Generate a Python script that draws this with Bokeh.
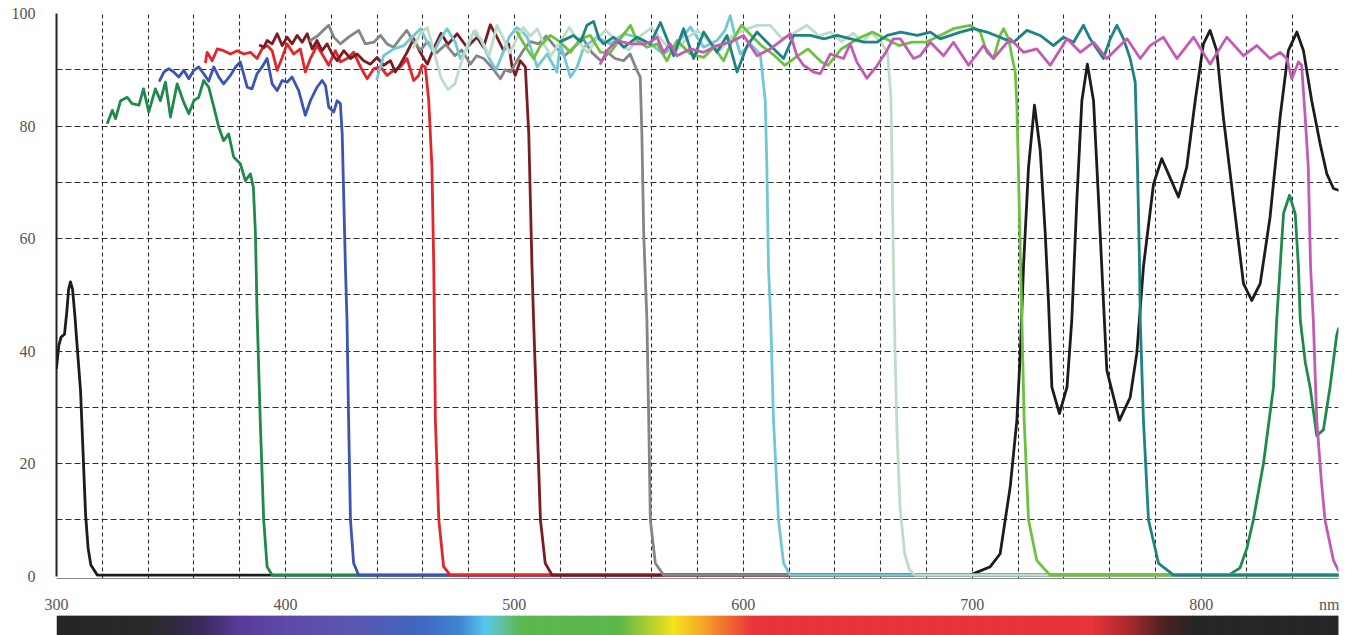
import numpy as np
from bokeh.plotting import figure
from bokeh.layouts import column
from bokeh.models import FixedTicker, Range1d
from bokeh.embed import file_html
from bokeh.resources import INLINE

# ---------------- data (wavelength nm, transmission %) ----------------
black_x = [300, 301, 302, 303.5, 304.5, 305.3, 306.1, 307, 308, 309, 310.5, 311.6, 312.7, 313.8, 315, 317.8,
           699, 707.9, 712.2, 716.6, 719.5, 721, 722.4, 724.6, 727.2, 729.7, 731.9, 733.3, 734.8, 738.1, 741.4,
           743.5, 745.7, 747.9, 750.3, 753, 755.2, 757.3, 758.8, 764.3, 769, 771.9, 774.8, 779.2, 782.8, 785.7,
           790.1, 793.7, 797.4, 801, 803.9, 806.8, 809.7, 814.1, 818.5, 822.1, 825.8, 830.1, 834.5, 838.1,
           841.8, 844.7, 848.3, 852, 854.9, 857.8, 860]
black_y = [37, 41, 42.5, 43, 47, 51, 52.3, 51, 46.5, 41, 33, 22, 11, 5, 2, 0.2,
           0.2, 1.7, 4, 15.9, 27.7, 39.6, 55, 72.7, 83.7, 75.7, 60.9, 49, 33.6, 28.9, 33.6,
           45.5, 66.8, 84.5, 91, 84.5, 66.8, 49, 36.6, 27.7, 31.8, 39.6, 55, 69.7, 74.2, 71.5,
           67.4, 72.7, 84.5, 94.6, 97, 93.4, 81.6, 66.8, 52, 49, 52, 63.8, 81.6, 93.4,
           96.7, 93.4, 84.5, 76.8, 71.5, 68.9, 68.6]

green_x = [322.3, 324.4, 325.8, 328, 330.9, 333, 336, 338, 340.3, 343.2, 345.4, 347.6, 349.8, 352.7, 355.6,
           357.8, 360, 362.1, 364.3, 366.5, 368.7, 370.9, 373, 375.2, 377.4, 380.3, 382.5, 384.7, 386, 386.9,
           387.6, 389, 390.5, 392, 394.2, 812, 817, 820, 822.8, 827.2, 831.6, 833, 834.5, 836, 838.6, 841.1,
           842.5, 843.3, 845.5, 847.6, 850.5, 853.4, 856.3, 859.2, 860]
green_y = [80.6, 82.8, 81.3, 84.5, 85.1, 84, 83.7, 86.6, 82.5, 86.6, 84.5, 87.8, 81.6, 87.5, 84.2,
           82.2, 84.5, 85.1, 88.1, 86.9, 83.4, 79.8, 77.4, 78.6, 74.5, 73.3, 70.3, 71.5, 69.1, 60.9,
           47, 27.7, 10, 1.7, 0.2, 0.2, 1.5, 5, 10, 20, 33.6, 45.5, 55, 64.5, 67.7, 64.4,
           55, 45.5, 38, 33.6, 25, 26, 33.6, 42.8, 44]

blue_x = [345.1, 346.9, 349, 351.2, 353.4, 355.6, 357.8, 360, 362.1, 364.3, 366.5, 368.7, 370.9, 373, 376,
          378.2, 380.3, 383.3, 385.4, 387.6, 389.8, 392, 394.2, 396.4, 398.6, 400.7, 402.9, 405.8, 408.7,
          410.9, 413.8, 416, 417.5, 418.9, 421.1, 422.6, 424, 424.8, 425.5, 426.2, 426.9, 427.6, 428.4,
          429.8, 432, 860]
blue_y = [88.1, 89.6, 90.2, 89.6, 88.7, 89.9, 88.4, 89.9, 90.5, 89.3, 88, 90.5, 88.7, 87.5, 89,
          90.5, 91.4, 86.9, 86.6, 89.3, 90.5, 92, 87.5, 86.3, 88.1, 87.8, 88.7, 86.3, 81.9,
          84.5, 86.9, 88.1, 87.2, 83.4, 82.5, 84.5, 84, 78.6, 66.8, 55, 45.5, 27.7, 10,
          2.3, 0.2, 0.2]

red_x = [365.1, 365.8, 368, 370.2, 373, 376, 378.9, 381.8, 384.7, 387.6, 389.8, 392, 394.2, 396.4, 398.6,
         400.7, 403.6, 406.5, 408.7, 410.9, 413.8, 416, 418.9, 421.8, 424, 426.9, 429.8, 432.8, 435.7,
         438.6, 441.5, 444.4, 447.3, 450.2, 453.1, 456, 458.2, 459.7, 461.1, 462.6, 464, 464.8, 465.5,
         467, 469.1, 472, 860]
red_y = [91.4, 93.1, 91.6, 93.7, 93.4, 92.8, 93.4, 92.8, 93.1, 92, 93.7, 94.3, 93.4, 89.9, 92.2,
         94.6, 92.8, 93.7, 89.6, 92, 94.3, 92.8, 90.8, 93.4, 91.4, 92, 93.1, 90.5, 88.4,
         90.2, 90.5, 89, 89.9, 90.5, 92, 88.1, 89, 90.8, 90.5, 84.5, 72.7, 55, 27.7,
         10, 1.7, 0.2, 0.2]

maroon_x = [389, 390.5, 392, 394.2, 396.4, 398.6, 400.7, 402.9, 405.1, 407.3, 409.5, 411.7, 413.8, 416,
            418.2, 420.4, 422.6, 425.5, 428.4, 431.3, 434.2, 437.1, 440, 442.9, 445.9, 448, 450.2, 453,
            456, 459, 462, 465, 468, 471, 475, 479.3, 483.7, 486.5, 489.5, 492.4, 495.3, 497.5, 499,
            500.4, 502.6, 504.8, 506.3, 507, 507.7, 508.4, 509.9, 511.4, 513.5, 516.5, 860]
maroon_y = [94.3, 94, 95.2, 94.6, 96.4, 94.3, 95.8, 94.6, 96.1, 94.9, 96.4, 93.7, 95.2, 93.4,
            94.6, 92.8, 91.6, 93.4, 92, 92.8, 91.6, 91, 92.2, 90.8, 91.6, 89.6, 91, 93,
            95.5, 93, 91, 94, 96.5, 94.5, 96.4, 94, 95.8, 94, 98, 95.8, 93.4, 94.6, 90.5,
            89, 91.6, 90.5, 78.6, 66.8, 55, 45.5, 27.7, 10, 2.3, 0.2, 0.2]

gray_x = [410.9, 414, 416.5, 418.9, 421.1, 424, 427.6, 432, 434.9, 438.6, 441.5, 444.4, 447.3, 450, 453,
          456, 459, 462, 466, 470, 474, 477, 480.8, 483.5, 486.6, 490, 493.9, 496, 498.3, 501, 504, 507,
          510.6, 514, 518, 522, 526, 530, 534, 538, 541, 544, 547.7, 550.6, 553.5, 555, 555.7, 556.5,
          557.9, 558.7, 559.4, 561.6, 565.2, 860]
gray_y = [95.2, 96, 97, 97.9, 95.8, 94.6, 95.8, 97, 94.6, 94.9, 96.1, 94.6, 94, 95.5, 97,
          95, 93.5, 95, 93, 94.5, 92.5, 93.5, 91, 92.5, 92, 90.5, 88.4, 90, 89.6, 91.5, 93.5, 95,
          94.6, 96, 94, 92.5, 94, 95.5, 93, 91.5, 93, 92, 91.6, 92.8, 89.9, 88.7, 78.6, 60.9,
          45.5, 27.7, 10, 2.3, 0.2, 0.2]

cyan_x = [440, 442.9, 447.3, 451.7, 454.6, 459, 461.9, 464.8, 467.7, 470.6, 474.2, 476.4, 479.3, 482.2,
          485.2, 489, 492, 495, 498, 501, 503, 505.6, 510, 514.3, 518.6, 520.1, 524.5, 527.4, 530.3,
          536.1, 541.9, 547.7, 553.6, 559.4, 565.2, 571, 576.9, 582.7, 588.5, 592, 594.3, 596.5, 598.7,
          603.1, 607.4, 609.6, 610.3, 611, 612, 613.2, 615.4, 617.6, 620.5, 860]
cyan_y = [88.4, 92.5, 93.7, 94.3, 95.5, 97.3, 94.9, 93.1, 95.5, 97.3, 94.9, 92, 93.7, 96.7,
          95.5, 92, 90, 93, 96, 97.5, 97, 95.8, 90.5, 92.8, 89.6, 94.6, 88.7, 90.5, 94,
          95.8, 94.6, 96.4, 95.8, 94.6, 92.8, 94.6, 97.6, 94, 95.2, 97, 99.6, 95.8, 92.8,
          94.6, 92.8, 84.5, 72.7, 55, 45.5, 27.7, 10, 2.3, 0.2, 0.2]

mint_x = [456, 459, 462, 465, 468, 471, 474, 477, 480, 483, 486, 489, 492.4, 495.3, 498, 501, 504, 507,
          510, 513, 516, 520, 524, 528, 532, 536, 540, 545, 550, 555, 560, 565, 570, 575, 580, 585, 590,
          595, 600, 606, 611.8, 617, 622, 627.8, 633, 638, 643, 648, 652, 656, 660, 663, 664.5, 665,
          665.6, 666.3, 667.2, 668.5, 670.5, 672.5, 675, 860]
mint_y = [94, 96.5, 97.5, 93, 88.5, 86.5, 87.5, 91.5, 95, 97, 95, 92.5, 97.9, 95.5, 93, 95.5, 97.5, 96,
          97.3, 94.5, 92.5, 95, 97.5, 95, 93, 95.5, 97, 95, 93.5, 96, 97.5, 95, 93, 95.5, 97, 95, 93.5,
          96, 97, 97.9, 97.9, 95.5, 96.5, 97.9, 96, 96.7, 95, 96.5, 95, 96.5, 95, 93, 85, 72,
          55, 40, 25, 12, 4, 1.2, 0.2, 0.2]

lgreen_x = [501.2, 505.5, 508.4, 511.4, 515.7, 520.1, 524.5, 528.8, 533.2, 537.6, 541.9, 546.3, 550.7,
            553.6, 558, 562.4, 566.6, 571, 576.9, 582.7, 587.1, 591.4, 595, 599.2, 603.5, 607.9, 613.7,
            618.1, 623.9, 628.3, 634.1, 637, 642.8, 650, 656.4, 662.2, 668, 673.8, 679.7, 686, 691.8,
            699.1, 703.5, 706.4, 709.3, 712.2, 713.7, 715.9, 717.3, 718.8, 719.5, 720.6, 721.7, 722.7,
            724.6, 728.2, 734, 860]
lgreen_y = [96.7, 93.7, 92, 94.3, 96.1, 94.9, 93.1, 95.5, 96.1, 93.1, 93.1, 95.5, 97.9,
            95.2, 94, 94.6, 91.6, 95.2, 92.8, 92.2, 94, 91.6, 95, 97.9, 96.1, 94.3, 92.5,
            90.8, 92.5, 93.7, 91.4, 90.8, 93.7, 95.5, 96.7, 95.5, 94.3, 94.9, 94.9, 96.1, 97.3,
            97.9, 96.7, 93.1, 92, 96.1, 97.3, 95.5, 92.5, 89.6, 83.7, 65, 45.5, 27.7,
            10, 2.8, 0.2, 0.2]

teal_x = [520.1, 525.8, 529, 531.7, 534.6, 537, 539, 543.4, 547.8, 553.6, 559.4, 563.8, 569.6, 573.9,
          578.3, 582.7, 588.5, 592.9, 597.3, 601.7, 606, 611.8, 617.6, 622, 629.3, 635.2, 641, 646.9,
          652.7, 658.5, 662.9, 668.7, 676, 681.7, 686, 694.8, 700.6, 706.4, 713.7, 718.1, 723.9, 729.7,
          735.5, 739.9, 744.3, 748.6, 751.5, 754.5, 757.3, 760.3, 763.2, 766.1, 769, 771.2, 772.2,
          773.1, 773.4, 774.8, 777, 781.4, 788, 860]
teal_y = [95, 96.1, 95, 97.9, 98.6, 95.5, 94.6, 95.8, 94, 95.8, 94.6, 98.4, 92.5, 97.3,
          92, 96.7, 93.1, 96.1, 89.6, 94.3, 96.7, 94.3, 92, 96.1, 96.1, 95.5, 96.1, 95.5,
          94.9, 94.9, 96.1, 96.7, 96.1, 96.7, 95.5, 96.7, 97.3, 96.7, 95.5, 94.9, 97, 96.1,
          94.3, 95.8, 94.9, 97.9, 95.5, 93.7, 92, 95.5, 97.9, 95.5, 92, 87.8, 72.7,
          55, 45.5, 27.7, 10, 2.3, 0.2, 0.2]

magenta_x = [537.6, 540.5, 544.8, 550.7, 556.5, 559.4, 562.3, 565.2, 568.1, 571, 576.9, 582.7, 588.5,
             594.3, 600.1, 606, 611.8, 617.6, 620.5, 623.4, 626.3, 630.7, 633.6, 638, 643.8, 646.7, 649.6,
             654, 658.4, 662.7, 665.5, 668.6, 674.4, 677.3, 681.7, 687.5, 691.8, 698.4, 704.9, 709.3,
             716.6, 722.4, 728.2, 734.1, 741.4, 747.2, 753, 758.8, 767.6, 773.4, 777.7, 783.5, 789.4,
             796.7, 803.9, 811.2, 818.5, 824.3, 830.1, 834.5, 837.4, 839.6, 842.5, 843.9, 844.6, 845.4,
             846.8, 847.8, 849, 850.5, 852.5, 854.1, 857.8, 860]
magenta_y = [91.1, 93.4, 95.2, 94.6, 94.6, 94.9, 95.8, 93.1, 94.6, 92.5, 93.7, 93.1, 94.3,
             94.9, 96.1, 92.5, 93.7, 95.5, 96.4, 92.5, 90.8, 89.6, 89.3, 92.8, 92, 94.6, 91.4,
             88.5, 90.7, 93.4, 95.5, 95.5, 92, 92.5, 94.9, 92.5, 94.9, 90.8, 94.3, 92,
             95.5, 93.1, 93.7, 90.8, 95.5, 93.1, 94.9, 92, 95.5, 92, 94.3, 95.8, 92,
             95.8, 91, 95.8, 92.5, 94.3, 92, 93.1, 92, 88.4, 91.4, 90.8, 86.6, 81.9,
             72.7, 55, 45.5, 27.7, 17, 10, 2.8, 1]

series = [
    (black_x, black_y, "#1c1c1c"),
    (green_x, green_y, "#1f8a4c"),
    (blue_x, blue_y, "#3c54b4"),
    (red_x, red_y, "#e3262b"),
    (maroon_x, maroon_y, "#7b1c22"),
    (gray_x, gray_y, "#858585"),
    (cyan_x, cyan_y, "#72c7d6"),
    (mint_x, mint_y, "#bfdcc6"),
    (lgreen_x, lgreen_y, "#6cc23e"),
    (teal_x, teal_y, "#1d8383"),
    (magenta_x, magenta_y, "#c35bb5"),
]

x_ticks = [300, 400, 500, 600, 700, 800]
x_unit_pos = 856
x_unit_label = "nm"
y_ticks = [0, 20, 40, 60, 80, 100]

# spectrum colour stops (decoration of the wavelength bar)
spec_nm = [300, 340, 362, 380, 400, 430, 458, 476, 487, 494, 503, 545, 557, 569, 580, 592, 604, 752, 768, 784, 797, 860]
spec_col = ["#262626", "#2a2a2a", "#3a2a5a", "#5a3c9c", "#5e4aa8", "#5a58b2", "#3f68c0", "#3f86d2", "#58c8f0",
            "#62c0a0", "#5cb84c", "#5cb84c", "#a6cc30", "#f5e51c", "#f6b024", "#f07030", "#e8333a", "#e8333a",
            "#a82a2e", "#4a2222", "#262626", "#262626"]

# ---------------- main chart ----------------
FONT = "Liberation Serif"
p = figure(frame_width=1282, frame_height=565,
           min_border_left=56, min_border_right=11, min_border_top=13, min_border_bottom=36,
           x_range=Range1d(300, 860), y_range=Range1d(-0.4, 100),
           output_backend="svg", toolbar_location=None,
           outline_line_color=None, background_fill_color="white", border_fill_color="white")

p.xgrid.ticker = FixedTicker(ticks=list(range(320, 861, 20)))
p.ygrid.ticker = FixedTicker(ticks=list(range(10, 101, 10)))
p.xgrid.grid_line_color = "#2e2e2e"
p.xgrid.grid_line_dash = "4 3"
p.xgrid.grid_line_width = 1.1
p.ygrid.grid_line_color = "#2e2e2e"
p.ygrid.grid_line_dash = "6 3"
p.ygrid.grid_line_width = 1.1

p.xaxis.ticker = FixedTicker(ticks=x_ticks + [x_unit_pos])
p.xaxis.major_label_overrides = {x_unit_pos: x_unit_label}
p.yaxis.ticker = FixedTicker(ticks=y_ticks)
p.yaxis.bounds = (0, 100)
for ax in (p.xaxis[0], p.yaxis[0]):
    ax.major_tick_out = 0
    ax.major_tick_in = 0
    ax.minor_tick_out = 0
    ax.minor_tick_in = 0
    ax.major_label_text_font = FONT
    ax.major_label_text_font_size = "16px"
    ax.major_label_text_color = "#555555"
p.yaxis.axis_line_color = "#222222"
p.yaxis.axis_line_width = 2
p.xaxis.axis_line_color = "#8a8a8a"
p.xaxis.axis_line_width = 1
p.xaxis.major_label_standoff = 17
p.yaxis.major_label_standoff = 21

for xs, ys, col in series:
    p.line(xs, ys, line_color=col, line_width=2.8, line_join="round", line_cap="round")

# ---------------- spectrum bar ----------------
def hex_rgb(h):
    h = h.lstrip("#")
    return [int(h[i:i + 2], 16) for i in (0, 2, 4)]

rgb = np.array([hex_rgb(c) for c in spec_col], dtype=float)
wl = np.arange(300.0, 860.0, 1.0)
cols = []
for w in wl:
    r = np.interp(w, spec_nm, rgb[:, 0])
    g = np.interp(w, spec_nm, rgb[:, 1])
    b = np.interp(w, spec_nm, rgb[:, 2])
    cols.append("#%02x%02x%02x" % (int(r), int(g), int(b)))

p2 = figure(frame_width=1282, frame_height=21,
            min_border_left=56, min_border_right=11, min_border_top=0, min_border_bottom=0,
            x_range=p.x_range, y_range=Range1d(0, 1),
            x_axis_type=None, y_axis_type=None,
            output_backend="svg", toolbar_location=None,
            outline_line_color=None, background_fill_color="white", border_fill_color="white")
p2.grid.visible = False
p2.quad(left=wl, right=wl + 1.6, bottom=0, top=1, fill_color=cols, line_color=None)

layout = column(p, p2, spacing=0)
open("out.html", "w").write(file_html(layout, INLINE))
